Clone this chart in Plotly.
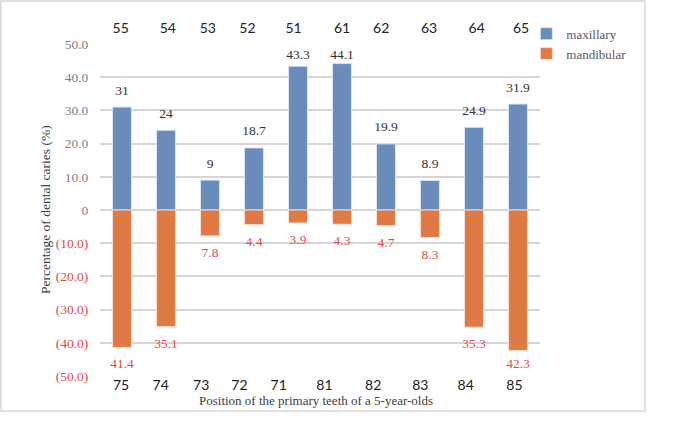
import plotly.graph_objects as go

# ---- data ----
upper_teeth = ["55", "54", "53", "52", "51", "61", "62", "63", "64", "65"]
lower_teeth = ["75", "74", "73", "72", "71", "81", "82", "83", "84", "85"]
maxillary = [31, 24, 9, 18.7, 43.3, 44.1, 19.9, 8.9, 24.9, 31.9]
mandibular = [41.4, 35.1, 7.8, 4.4, 3.9, 4.3, 4.7, 8.3, 35.3, 42.3]
y_ticks = [50, 40, 30, 20, 10, 0, -10, -20, -30, -40, -50]

# label placement tweaks (in category units) to mimic the original layout
top_label_offset = [-0.03, 0.04, -0.05, -0.15, -0.1, 0.0, -0.11, -0.02, 0.06, 0.07]
bottom_label_offset = [-0.02, -0.12, -0.2, -0.33, -0.44, -0.4, -0.29, -0.22, -0.19, -0.08]
LABEL_GAP_UP = 4.8     # data units between bar end and value label centre
LABEL_GAP_DOWN = 5.3
LABEL_CAP_UP = 46.5
LABEL_CAP_DOWN = 46.7

BLUE = "#6a8cba"
ORANGE = "#e07a45"
RED = "#e8473f"
GRAY = "#7f7f7f"
GRID = "#d9d4d4"
SERIF = "Liberation Serif, Times New Roman, serif"
SANS = "Lato"

idx = list(range(len(upper_teeth)))

def fmt_tick(v):
    if v == 0:
        return "<span style='color:%s'>0</span>" % GRAY
    if v > 0:
        return "<span style='color:%s'>%.1f</span>" % (GRAY, v)
    return "<span style='color:%s'>(%.1f)</span>" % (RED, -v)

fig = go.Figure()
fig.add_trace(go.Bar(
    x=idx, y=maxillary, name="maxillary",
    marker=dict(color=BLUE, line=dict(color="rgba(220,230,245,0.9)", width=1)),
    width=0.43,
))
fig.add_trace(go.Bar(
    x=idx, y=[-v for v in mandibular], name="mandibular",
    marker=dict(color=ORANGE, line=dict(color="rgba(250,225,210,0.9)", width=1)),
    width=0.43,
))
# value labels
fig.add_trace(go.Scatter(
    x=idx, y=[min(v + LABEL_GAP_UP, LABEL_CAP_UP) for v in maxillary],
    mode="text", text=["%g" % v for v in maxillary], textposition="middle center",
    textfont=dict(family=SERIF, size=13.5, color="#333333"),
    showlegend=False, hoverinfo="skip", cliponaxis=False,
))
fig.add_trace(go.Scatter(
    x=idx, y=[-min(v + LABEL_GAP_DOWN, LABEL_CAP_DOWN) for v in mandibular],
    mode="text", text=["%g" % v for v in mandibular], textposition="middle center",
    textfont=dict(family=SERIF, size=13.5, color=RED),
    showlegend=False, hoverinfo="skip", cliponaxis=False,
))
# invisible trace for the top axis
fig.add_trace(go.Scatter(x=idx, y=[0] * len(idx), xaxis="x2", mode="markers",
                         marker=dict(opacity=0), showlegend=False, hoverinfo="skip"))

fig.update_layout(
    width=685, height=426,
    margin=dict(l=100, r=145, t=44, b=50, autoexpand=False),
    paper_bgcolor="white", plot_bgcolor="white",
    barmode="overlay",
    showlegend=True,
    legend=dict(x=0.969, y=1.076, xanchor="left", yanchor="top",
                font=dict(family=SERIF, size=13, color="#595959"),
                bgcolor="rgba(0,0,0,0)", tracegroupgap=0),
    xaxis=dict(range=[-0.5, 9.5], tickmode="array", automargin=False,
               tickvals=[i + o for i, o in zip(idx, bottom_label_offset)],
               ticktext=lower_teeth, showgrid=False, zeroline=False,
               ticks="", ticklabelstandoff=-1,
               tickfont=dict(family=SANS, size=14, color="#222222"),
               showline=False),
    xaxis2=dict(range=[-0.5, 9.5], overlaying="x", side="top", tickmode="array",
                automargin=False,
                tickvals=[i + o for i, o in zip(idx, top_label_offset)],
                ticktext=upper_teeth, showgrid=False, zeroline=False,
                ticks="outside", ticklen=4, tickcolor="rgba(0,0,0,0)",
                tickfont=dict(family=SANS, size=14, color="#222222"),
                showline=False),
    yaxis=dict(range=[-50, 50], tickmode="array", tickvals=y_ticks, automargin=False,
               ticktext=[fmt_tick(v) for v in y_ticks],
               showgrid=True, gridcolor=GRID, gridwidth=1.5,
               zeroline=True, zerolinecolor=GRID, zerolinewidth=1.5,
               ticks="outside", ticklen=8, tickcolor="rgba(0,0,0,0)",
               tickfont=dict(family=SERIF, size=13.5, color=GRAY),
               showline=False),
    annotations=[
        dict(text="Percentage of dental caries (%)", textangle=-90,
             xref="paper", yref="paper", x=-0.125, y=0.5,
             xanchor="center", yanchor="middle",
             showarrow=False, font=dict(family=SERIF, size=13.5, color="#404040")),
        dict(text="Position of the primary teeth of a 5-year-olds",
             xref="paper", yref="paper", x=0.49, y=-0.075,
             xanchor="center", yanchor="middle",
             showarrow=False, font=dict(family=SERIF, size=13, color="#404040")),
    ],
    shapes=[dict(type="rect", xref="paper", yref="paper",
                 x0=-0.225, x1=1.2386, y0=-0.1054, y1=1.1295,
                 line=dict(color="#d9d5d5", width=1.5), fillcolor="rgba(0,0,0,0)")],
)

fig.write_html("out.html", config={"displayModeBar": False},
               post_script="document.body.style.margin='0';")
